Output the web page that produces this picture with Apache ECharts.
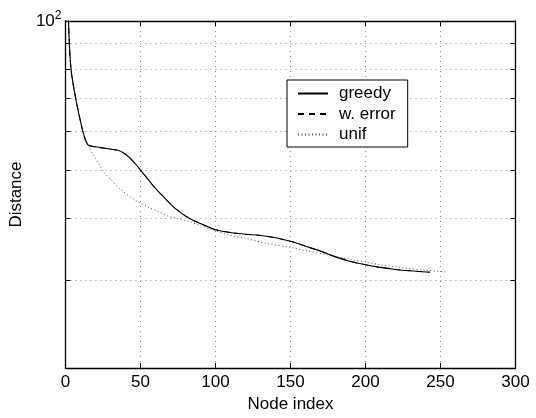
<!DOCTYPE html>
<html>
<head>
<meta charset="utf-8">
<script src="https://cdn.jsdelivr.net/npm/echarts@6/dist/echarts.min.js"></script>
<style>
  html, body { margin: 0; padding: 0; background: #fff; }
  #chart { width: 536px; height: 418px; }
</style>
</head>
<body>
<div id="chart"></div>
<script>
// Node index / distance pairs for each placement strategy
const greedyIdx = [1, 2, 3, 4, 5, 6, 8, 10, 12, 15, 20, 25, 30, 35, 40, 45, 50, 55, 60, 65, 70, 75, 80, 85, 90, 95, 100, 110, 120, 130, 140, 150, 160, 170, 180, 190, 200, 210, 220, 230, 243];
const greedyDist = [125, 100, 85, 78.5, 75, 72, 67, 62.8, 59.3, 56.3, 55.8, 55.5, 55.2, 54.9, 53.9, 52.2, 50.1, 48.0, 46.0, 44.4, 42.8, 41.5, 40.5, 39.7, 39.1, 38.5, 38.0, 37.5, 37.2, 37.0, 36.6, 36.0, 35.2, 34.4, 33.5, 32.8, 32.3, 31.9, 31.6, 31.4, 31.2];

const wErrorIdx = greedyIdx.slice();
const wErrorDist = greedyDist.slice();

const unifIdx = [1, 2, 3, 4, 5, 6, 8, 10, 12, 15, 18, 22, 26, 31, 36, 42, 48, 55, 62, 68, 75, 82, 90, 100, 110, 120, 135, 150, 160, 175, 190, 200, 210, 223, 240, 255];
const unifDist = [125, 100, 85, 78.5, 75, 72, 67, 62.8, 59.3, 56.3, 54.0, 51.7, 49.5, 47.6, 46.0, 44.5, 43.3, 42.2, 41.3, 40.5, 40.0, 39.5, 38.7, 37.8, 37.0, 36.5, 35.6, 35.0, 34.5, 33.8, 33.1, 32.7, 32.3, 31.9, 31.5, 31.2];

// Axis ticks
const xTicks = [0, 50, 100, 150, 200, 250, 300];
const yGridValues = [30, 40, 50, 60, 70, 80, 90, 100];
const yLabelValues = [100];

const FONT = 'Liberation Sans, Arial, Helvetica, sans-serif';
const FS = 17;

function pairs(xs, ys) { return xs.map((x, i) => [x, ys[i]]); }

const gridLine = { show: true, lineStyle: { color: '#8a8a8a', width: 1, type: [1, 4] } };
const inTick = { show: true, inside: true, length: 5, lineStyle: { color: '#000', width: 1 } };
const blackLine = { show: true, onZero: false, lineStyle: { color: '#000', width: 1.3 } };

const chart = echarts.init(document.getElementById('chart'), null, { renderer: 'canvas' });
chart.setOption({
  animation: false,
  backgroundColor: '#fff',
  textStyle: { fontFamily: FONT },
  grid: { left: 63.5, right: 20.5, top: 21, bottom: 41, containLabel: false },
  legend: {
    data: ['greedy', 'w. error', 'unif'],
    orient: 'vertical',
    left: 287, top: 80,
    padding: [5, 12, 4, 10],
    backgroundColor: '#fff',
    borderColor: '#000', borderWidth: 1, borderRadius: 0,
    itemWidth: 30, itemHeight: 17, itemGap: 3.5,
    itemStyle: { opacity: 0 },
    textStyle: { fontFamily: FONT, fontSize: FS, color: '#000', lineHeight: 17, padding: [0, 0, 0, 6] }
  },
  xAxis: [{
    type: 'value', min: 0, max: 300, interval: 50,
    name: 'Node index', nameLocation: 'middle', nameGap: 23,
    nameTextStyle: { fontFamily: FONT, fontSize: FS, color: '#000' },
    axisLine: blackLine, axisTick: inTick,
    axisLabel: { color: '#000', fontFamily: FONT, fontSize: FS, margin: 6,
      customValues: xTicks },
    splitLine: gridLine
  }, {
    type: 'value', min: 0, max: 300, interval: 50, position: 'top',
    axisLine: blackLine, axisTick: inTick,
    axisLabel: { show: false }, splitLine: { show: false }
  }],
  yAxis: [{
    type: 'log', min: 20, max: 100, logBase: 10,
    name: 'Distance', nameLocation: 'middle', nameGap: 37,
    nameTextStyle: { fontFamily: FONT, fontSize: FS, color: '#000' },
    axisLine: blackLine,
    axisTick: Object.assign({ customValues: yGridValues }, inTick),
    axisLabel: {
      customValues: yLabelValues, margin: 4,
      formatter: v => '{a|10}{s|2}',
      rich: {
        a: { fontFamily: FONT, fontSize: FS, color: '#000' },
        s: { fontFamily: FONT, fontSize: 12, color: '#000', verticalAlign: 'top', padding: [0, 0, 11, 0] }
      }
    },
    splitLine: gridLine
  }, {
    type: 'log', min: 20, max: 100, logBase: 10, position: 'right',
    axisLine: blackLine,
    axisTick: Object.assign({ customValues: yGridValues }, inTick),
    axisLabel: { show: false }, splitLine: { show: false }
  }],
  series: [{
    name: 'unif', type: 'line', data: pairs(unifIdx, unifDist),
    showSymbol: false, symbol: 'none', smooth: 0.3,
    lineStyle: { color: '#555', width: 1, type: [1, 2.5] },
    itemStyle: { color: '#555' }
  }, {
    name: 'w. error', type: 'line', data: pairs(wErrorIdx, wErrorDist),
    showSymbol: false, symbol: 'none', smooth: 0.3,
    lineStyle: { color: '#000', width: 1, type: [6, 5] },
    itemStyle: { color: '#000' }
  }, {
    name: 'greedy', type: 'line', data: pairs(greedyIdx, greedyDist),
    showSymbol: false, symbol: 'none', smooth: 0.3,
    lineStyle: { color: '#000', width: 1.1, type: 'solid' },
    itemStyle: { color: '#000' }
  }]
});
</script>
</body>
</html>
